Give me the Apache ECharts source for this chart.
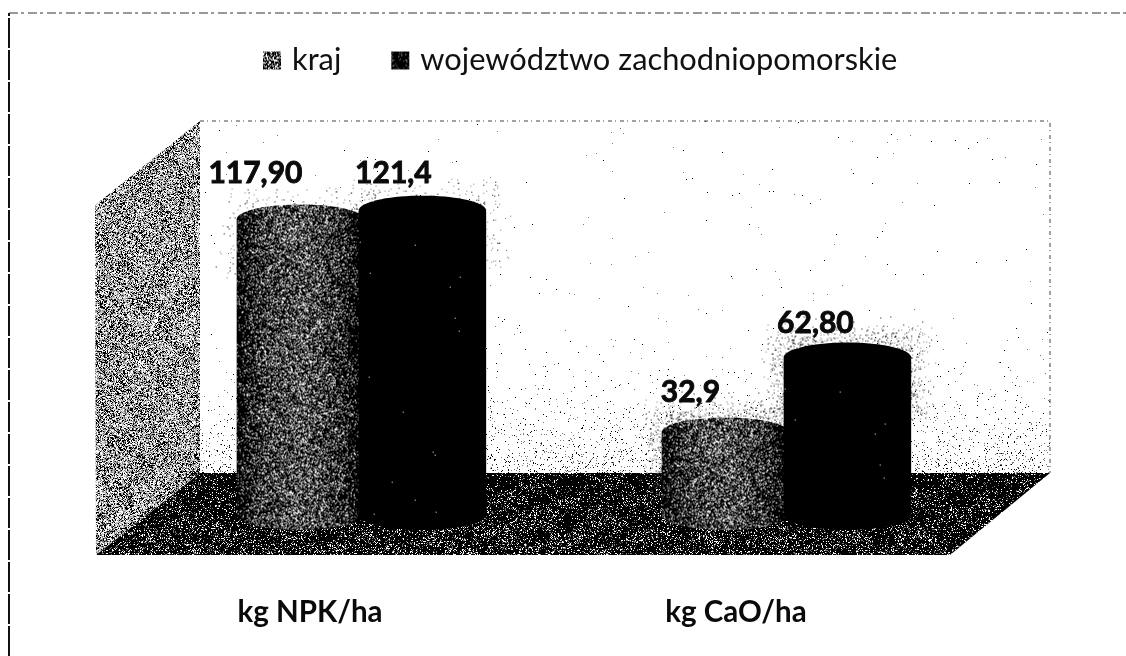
<!DOCTYPE html>
<html lang="pl">

<head>
    <meta charset="UTF-8">
    <title>Nawożenie</title>
    <script src="https://cdn.jsdelivr.net/npm/echarts@6/dist/echarts.min.js"></script>
    <style>
        * {
            margin: 0;
            padding: 0;
        }

        body {
            background: #fff;
        }

        #main {
            width: 1126px;
            height: 656px;
        }
    </style>
</head>

<body>
    <div id="main"></div>
    <script>
        // data
        const categories = ['kg NPK/ha', 'kg CaO/ha'];
        const seriesNames = ['kraj', 'województwo zachodniopomorskie'];
        const krajValues = [117.9, 32.9];
        const wojValues = [121.4, 62.8];
        const krajLabels = ['117,90', '32,9'];
        const wojLabels = ['121,4', '62,80'];

        // layout of the fake 3D box (decoration, not data)
        const PAGE_W = 1126, PAGE_H = 656;
        const BACK_LEFT = 200, BACK_RIGHT = 1050, BACK_TOP = 121, BACK_BOTTOM = 473;
        const FRONT_Y = 555;
        const CYL_RY = 15;
        // label shift from the top of each cylinder [series][category]
        const labelNudge = [[[-45, -46], [-35, -40]], [[-29, -37], [-32, -34]]];

        // small deterministic generator, only for the scanned-print grain
        function grain(seed) {
            let s = seed >>> 0;
            return function () {
                s = (Math.imul(s, 1664525) + 1013904223) >>> 0;
                return (s >>> 8) / 16777216;
            };
        }

        // pick(x, y, rnd) returns a [r, g, b, a] pixel
        function texture(w, h, seed, pick) {
            const c = document.createElement('canvas');
            c.width = w;
            c.height = h;
            const ctx = c.getContext('2d');
            const img = ctx.createImageData(w, h);
            const rnd = grain(seed);
            for (let y = 0; y < h; y++) {
                for (let x = 0; x < w; x++) {
                    const p = pick(x, y, rnd);
                    const i = (y * w + x) * 4;
                    img.data[i] = p[0];
                    img.data[i + 1] = p[1];
                    img.data[i + 2] = p[2];
                    img.data[i + 3] = p[3];
                }
            }
            ctx.putImageData(img, 0, 0);
            return c;
        }

        const BLACK = [0, 0, 0, 255], GREY = [120, 120, 120, 255], LIGHT = [190, 190, 190, 255], WHITE = [255, 255, 255, 255], NONE = [255, 255, 255, 0];

        const leftWallTex = texture(PAGE_W, PAGE_H, 11, function (x, y, rnd) {
            const r = rnd();
            const blot = 0.09 * Math.sin(x / 7) * Math.sin(y / 9);
            if (r < 0.27 + blot) return BLACK;
            if (r < 0.47 + blot) return GREY;
            return r < 0.72 ? LIGHT : WHITE;
        });

        const floorTex = texture(PAGE_W, PAGE_H, 23, function (x, y, rnd) {
            const r = rnd();
            const blot = 0.07 * Math.sin(x / 11) * Math.sin(y / 6);
            const p = 0.13 + 0.12 * (y - BACK_BOTTOM) / (FRONT_Y - BACK_BOTTOM) + blot;
            if (r < p * 0.5) return WHITE;
            if (r < p) return GREY;
            return BLACK;
        });

        const backWallTex = texture(PAGE_W, PAGE_H, 37, function (x, y, rnd) {
            const t = Math.max(0, (y - 290) / (BACK_BOTTOM - 290));
            const p = 0.0012 + 0.1 * t * t * t * t * t + 0.02 * t * t;
            const r = rnd();
            if (r < p * 0.55) return GREY;
            if (r < p) return BLACK;
            return WHITE;
        });

        // one texture per cylinder width, lighter around the middle
        function krajTexture(w) {
            return texture(Math.round(w), 420, 53, function (x, y, rnd) {
                const t = Math.abs(2 * x / w - 0.95);
                const p = 0.06 + 0.42 * Math.max(0, 1 - t * t) + 0.06 * Math.sin(x / 5) * Math.sin(y / 7);
                const r = rnd();
                if (r < p * 0.45) return WHITE;
                if (r < p) return GREY;
                return BLACK;
            });
        }

        function wojTexture(w) {
            return texture(Math.round(w), 420, 71, function (x, y, rnd) {
                return rnd() < 0.0005 ? WHITE : BLACK;
            });
        }

        // speckle around the top of a cylinder, thinning out with distance
        function haloTexture(w, h, pad, strength) {
            return texture(Math.round(w), Math.round(h), 89, function (x, y, rnd) {
                const dx = Math.max(pad - x, x - (w - pad), 0);
                const dy = Math.max(pad - y, y - (h - pad), 0);
                const d = Math.sqrt(dx * dx + dy * dy) / pad;
                const p = strength * Math.pow(Math.max(0, 1 - d), 2.4);
                const r = rnd();
                if (r < p * 0.6) return GREY;
                if (r < p) return BLACK;
                return NONE;
            });
        }

        const cache = {};
        function cached(key, make) {
            if (!cache[key]) cache[key] = make();
            return cache[key];
        }

        function cylinderGeometry(api, offsetShare) {
            const band = api.size([1, 0])[0];
            const w = band * 0.3;
            const top = api.coord([api.value(0), api.value(1)]);
            const base = api.coord([api.value(0), 0]);
            return {
                cx: top[0] + band * offsetShare,
                topY: top[1],
                baseY: base[1],
                rx: w / 2,
                w: w
            };
        }

        function silhouette(g) {
            const pts = [];
            for (let i = 0; i <= 36; i++) {
                const a = Math.PI + Math.PI * i / 36;
                pts.push([g.cx + g.rx * Math.cos(a), g.topY + CYL_RY * Math.sin(a)]);
            }
            for (let i = 0; i <= 36; i++) {
                const a = Math.PI * i / 36;
                pts.push([g.cx + g.rx * Math.cos(a), g.baseY + CYL_RY * Math.sin(a)]);
            }
            return pts;
        }

        function renderCylinder(seriesIdx, labels, offsetShare, makeTex) {
            return function (params, api) {
                const g = cylinderGeometry(api, offsetShare);
                const tex = cached('cyl' + seriesIdx, function () { return makeTex(g.w); });
                const nudge = labelNudge[seriesIdx][params.dataIndex];
                return {
                    type: 'group',
                    children: [{
                        type: 'polygon',
                        shape: { points: silhouette(g) },
                        style: { fill: { image: tex, repeat: 'repeat', x: g.cx - g.rx, y: g.topY - CYL_RY } }
                    }, {
                        type: 'text',
                        style: {
                            text: labels[params.dataIndex],
                            x: g.cx + nudge[0],
                            y: g.topY + nudge[1],
                            textAlign: 'center',
                            textVerticalAlign: 'middle',
                            fontFamily: 'Lato',
                            fontWeight: 'bold',
                            fontSize: 30,
                            fill: '#0a0a0a',
                            stroke: '#0a0a0a',
                            lineWidth: 0.9
                        }
                    }]
                };
            };
        }

        function renderHalo(offsetShare) {
            return function (params, api) {
                const g = cylinderGeometry(api, offsetShare);
                const pad = 30;
                const w = g.w + pad * 2;
                const h = 2 * CYL_RY + pad * 2 + 30;
                // the wall is clean high up, so tall cylinders get much less speckle
                const strength = g.topY < 300 ? 0.05 : 0.2;
                const tex = cached('halo' + strength, function () { return haloTexture(w, h, pad, strength); });
                return {
                    type: 'image',
                    style: { image: tex, x: g.cx - g.rx - pad, y: g.topY - CYL_RY - pad, width: w, height: h }
                };
            };
        }

        function pairs(values) {
            return values.map(function (v, i) { return [i, v]; });
        }

        function customSeries(name, values, renderItem, z) {
            return {
                type: 'custom',
                name: name,
                xAxisIndex: 0,
                yAxisIndex: 0,
                coordinateSystem: 'cartesian2d',
                clip: false,
                silent: true,
                z: z,
                encode: { x: 0, y: 1 },
                data: pairs(values),
                renderItem: renderItem
            };
        }

        const krajIcon = texture(18, 18, 3, function (x, y, rnd) {
            return rnd() < 0.55 ? BLACK : (rnd() < 0.4 ? GREY : WHITE);
        });
        const wojIcon = texture(18, 18, 5, function (x, y, rnd) {
            return rnd() < 0.12 ? GREY : BLACK;
        });

        const option = {
            animation: false,
            backgroundColor: '#fff',
            legend: {
                left: 258,
                top: 40,
                itemWidth: 18,
                itemHeight: 18,
                itemGap: 50,
                icon: 'rect',
                textStyle: {
                    fontFamily: 'Lato',
                    fontSize: 30.8,
                    color: '#111',
                    padding: [0, 0, 0, 6]
                },
                data: [
                    { name: seriesNames[0], itemStyle: { color: { image: krajIcon, repeat: 'repeat' } } },
                    { name: seriesNames[1], itemStyle: { color: { image: wojIcon, repeat: 'repeat' } } }
                ]
            },
            // first grid carries the cylinders, second only the category labels
            // (labels sit further left, on the front edge of the floor)
            grid: [
                { left: 147, width: 850, top: 164, height: 351 },
                { left: 97, width: 852, top: 500, height: 95 }
            ],
            xAxis: [{
                type: 'category',
                gridIndex: 0,
                data: categories,
                show: false
            }, {
                type: 'category',
                gridIndex: 1,
                data: categories,
                axisLine: { show: false },
                axisTick: { show: false },
                axisLabel: {
                    margin: 2,
                    fontFamily: 'Lato',
                    fontWeight: 'bold',
                    fontSize: 29.5,
                    color: '#0a0a0a'
                }
            }],
            yAxis: [
                { type: 'value', gridIndex: 0, min: 0, max: 140, show: false },
                { type: 'value', gridIndex: 1, show: false }
            ],
            graphic: [
                // outer frame of the scan
                { type: 'polyline', shape: { points: [[9, PAGE_H], [9, 13]] }, style: { stroke: '#111', lineWidth: 2, fill: null, lineDash: [30, 2] } },
                { type: 'polyline', shape: { points: [[9, 13], [PAGE_W, 13]] }, style: { stroke: '#333', lineWidth: 1, fill: null, lineDash: [9, 3, 3, 4] } },
                // back wall, left wall, floor
                { type: 'polygon', shape: { points: [[BACK_LEFT, BACK_TOP], [BACK_RIGHT, BACK_TOP], [BACK_RIGHT, BACK_BOTTOM], [BACK_LEFT, BACK_BOTTOM]] }, style: { fill: { image: backWallTex, repeat: 'no-repeat' } } },
                { type: 'polyline', shape: { points: [[BACK_LEFT, BACK_TOP], [BACK_RIGHT, BACK_TOP], [BACK_RIGHT, BACK_BOTTOM]] }, style: { stroke: '#444', lineWidth: 1, fill: null, lineDash: [4, 3, 1, 4] } },
                { type: 'polygon', shape: { points: [[BACK_LEFT, BACK_TOP], [BACK_LEFT, BACK_BOTTOM], [96, FRONT_Y], [95, 205]] }, style: { fill: { image: leftWallTex, repeat: 'no-repeat' } } },
                { type: 'polygon', shape: { points: [[BACK_LEFT, BACK_BOTTOM], [BACK_RIGHT, BACK_BOTTOM], [950, FRONT_Y], [96, FRONT_Y]] }, style: { fill: { image: floorTex, repeat: 'no-repeat' } } }
            ],
            series: [
                customSeries('halo1', krajValues, renderHalo(-0.139), 1),
                customSeries('halo2', wojValues, renderHalo(0.148), 1),
                customSeries(seriesNames[0], krajValues, renderCylinder(0, krajLabels, -0.139, krajTexture), 3),
                customSeries(seriesNames[1], wojValues, renderCylinder(1, wojLabels, 0.148, wojTexture), 4)
            ]
        };

        const myChart = echarts.init(document.getElementById('main'));
        myChart.setOption(option);
    </script>
</body>

</html>
